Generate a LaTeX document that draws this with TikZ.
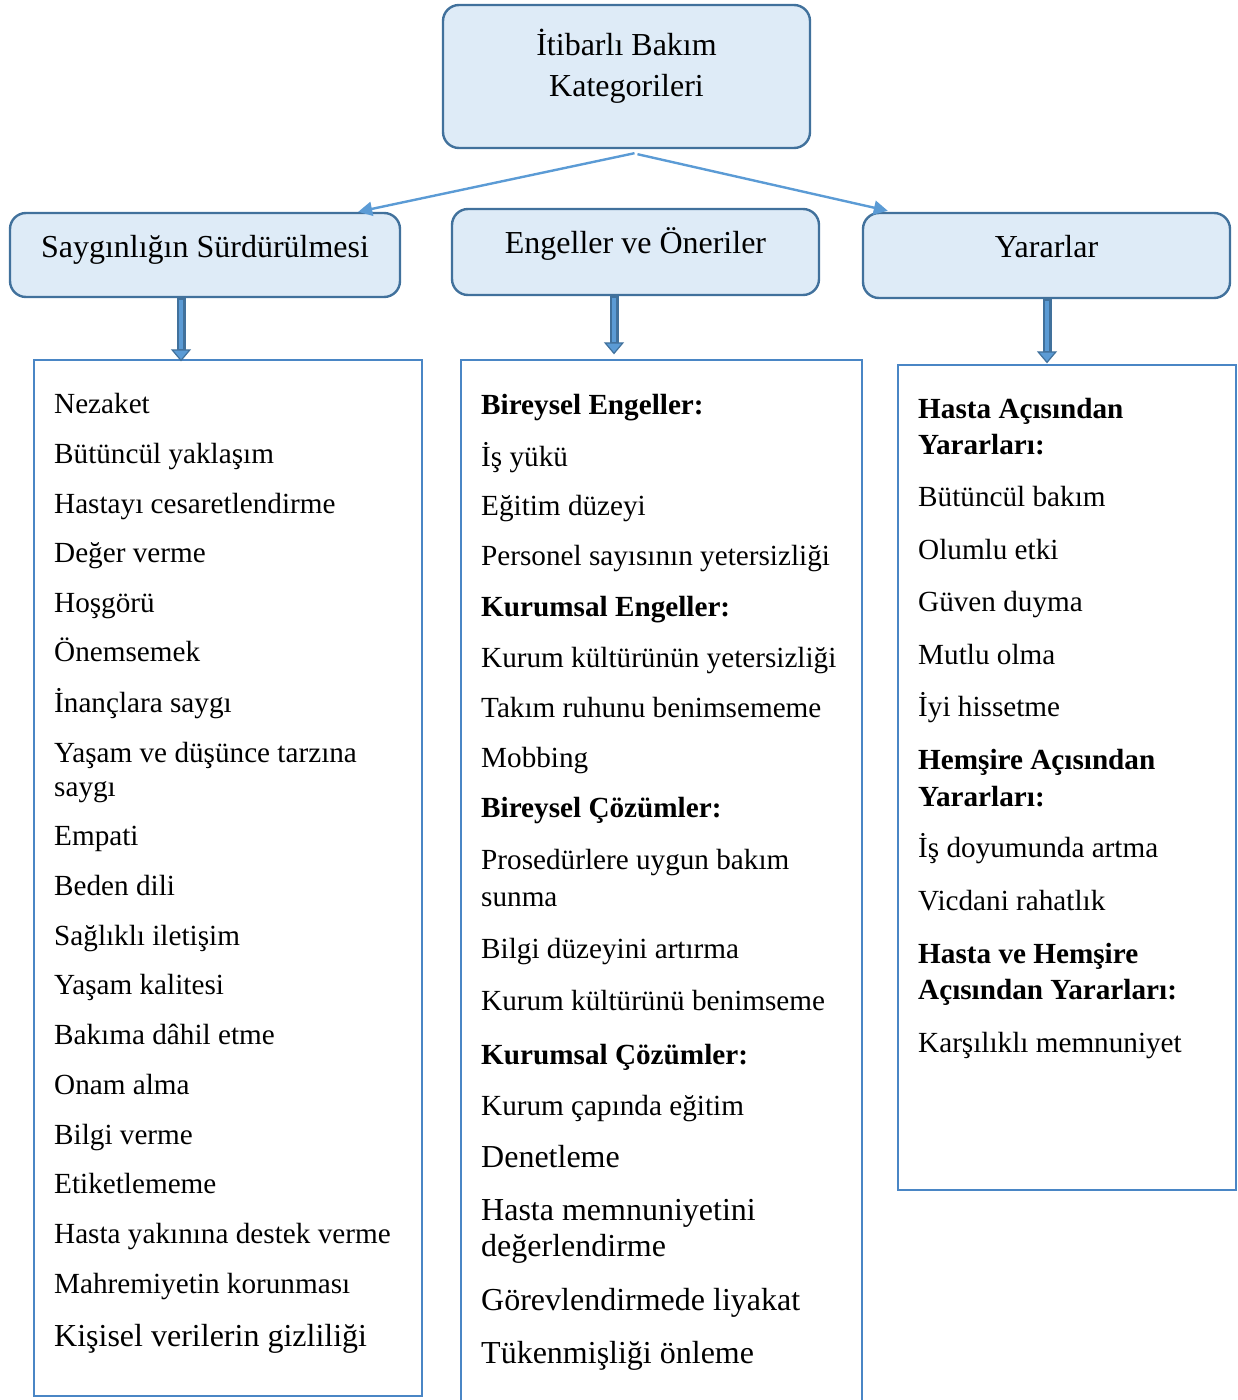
\documentclass[tikz,border=0pt]{standalone}
\usepackage{fontspec}
\setmainfont{Liberation Serif}
\usetikzlibrary{arrows.meta}
\definecolor{boxfill}{HTML}{DEEBF7}
\definecolor{boxedge}{HTML}{41719C}
\definecolor{linkblue}{HTML}{5B9BD5}
\definecolor{listedge}{HTML}{4A86C5}
\begin{document}
\begin{tikzpicture}[x=1pt,y=-1pt,
  catbox/.style={draw=boxedge, fill=boxfill, line width=2.4pt, rounded corners=16pt, inner sep=0pt},
  listbox/.style={draw=listedge, line width=1.3pt, inner sep=0pt},
  title/.style={font=\fontsize{32}{38}\selectfont, anchor=base, inner sep=0pt},
  item/.style={font=\fontsize{29.2}{35}\selectfont, anchor=base west, inner sep=0pt},
  bigitem/.style={font=\fontsize{32}{38}\selectfont, anchor=base west, inner sep=0pt},
  link/.style={draw=linkblue, line width=2.4pt, -{Triangle[width=14pt,length=14pt]}},
  blockout/.style={draw=boxedge, line width=9pt,
    -{Triangle[width=20pt,length=12pt,line width=1.2pt,fill=linkblue]}},
  blockin/.style={draw=linkblue, line width=4pt}]
\useasboundingbox (0,0) rectangle (1237,1400);
\clip (0,0) rectangle (1237,1400);

% category boxes
\node[catbox, minimum width=367pt, minimum height=143pt] (top) at (626.5,76.5) {};
\node[title] (topa) at (626.5,55) {İtibarlı Bakım};
\node[title] (topb) at (626.5,96) {Kategorileri};

\node[catbox, minimum width=390pt, minimum height=84pt] (sd) at (205,255) {};
\node[title] (sdt) at (205,257) {Saygınlığın Sürdürülmesi};
\node[catbox, minimum width=367pt, minimum height=86pt] (eo) at (635.5,252) {};
\node[title] (eot) at (635.5,253) {Engeller ve Öneriler};
\node[catbox, minimum width=367pt, minimum height=85pt] (yr) at (1046.5,255.5) {};
\node[title] (yrt) at (1046.5,257) {Yararlar};

% list boxes
\node[listbox, minimum width=388pt, minimum height=1036pt] (ls) at (228,878) {};
\node[listbox, minimum width=401pt, minimum height=1060pt] (le) at (661.5,890) {};
\node[listbox, minimum width=338pt, minimum height=825pt] (lr) at (1067,777.5) {};

% connectors from the top box
\draw[link] ([xshift=8pt,yshift=-4pt]top.south) -- ([xshift=-43pt]sd.north east);
\draw[link] ([xshift=11pt,yshift=-5pt]top.south) -- ([xshift=26pt,yshift=1pt]yr.north west);

% block arrows down to the lists (outline with head, then light core)
\draw[blockout] ([xshift=-24pt]sd.south) -- ([xshift=-47pt,yshift=-2pt]ls.north);
\draw[blockin] ([xshift=-24pt,yshift=-2pt]sd.south) -- ([xshift=-47pt,yshift=10pt]ls.north);
\draw[blockout] ([xshift=-21.5pt]eo.south) -- ([xshift=-47.5pt,yshift=5pt]le.north);
\draw[blockin] ([xshift=-21.5pt,yshift=-2pt]eo.south) -- ([xshift=-47.5pt,yshift=17pt]le.north);
\draw[blockout] ([xshift=0.5pt]yr.south) -- ([xshift=-20pt,yshift=1pt]lr.north);
\draw[blockin] ([xshift=0.5pt,yshift=-2pt]yr.south) -- ([xshift=-20pt,yshift=13pt]lr.north);

% left list
\foreach \y/\t [count=\i] in {
  404/Nezaket, 454/Bütüncül yaklaşım, 504/Hastayı cesaretlendirme,
  553/Değer verme, 603/Hoşgörü, 652/Önemsemek, 703/İnançlara saygı,
  753/Yaşam ve düşünce tarzına, 787/saygı, 836/Empati, 886/Beden dili,
  936/Sağlıklı iletişim, 985/Yaşam kalitesi, 1035/Bakıma dâhil etme,
  1085/Onam alma, 1135/Bilgi verme, 1184/Etiketlememe,
  1234/Hasta yakınına destek verme, 1284/Mahremiyetin korunması}
  \node[item] (s\i) at (54,\y+9) {\t};
\node[bigitem] (s20) at (54,1346) {Kişisel verilerin gizliliği};

% middle list
\foreach \y/\t [count=\i] in {
  405/\textbf{Bireysel Engeller:}, 457/İş yükü, 506/Eğitim düzeyi,
  556/Personel sayısının yetersizliği, 607/\textbf{Kurumsal Engeller:},
  658/Kurum kültürünün yetersizliği, 708/Takım ruhunu benimsememe,
  758/Mobbing, 808/\textbf{Bireysel Çözümler:},
  860/Prosedürlere uygun bakım, 897/sunma, 949/Bilgi düzeyini artırma,
  1001/Kurum kültürünü benimseme, 1055/\textbf{Kurumsal Çözümler:},
  1106/Kurum çapında eğitim}
  \node[item] (e\i) at (481,\y+9) {\t};
\foreach \y/\t [count=\i from 16] in {
  1157/Denetleme, 1210/Hasta memnuniyetini, 1246/değerlendirme,
  1300/Görevlendirmede liyakat, 1353/Tükenmişliği önleme}
  \node[bigitem] (e\i) at (481,\y+10) {\t};

% right list
\foreach \y/\t [count=\i] in {
  409/\textbf{Hasta Açısından}, 445/\textbf{Yararları:}, 497/Bütüncül bakım,
  550/Olumlu etki, 602/Güven duyma, 655/Mutlu olma, 707/İyi hissetme,
  760/\textbf{Hemşire Açısından}, 797/\textbf{Yararları:},
  848/İş doyumunda artma, 901/Vicdani rahatlık,
  954/\textbf{Hasta ve Hemşire}, 990/\textbf{Açısından Yararları:},
  1043/Karşılıklı memnuniyet}
  \node[item] (r\i) at (918,\y+9) {\t};
\end{tikzpicture}
\end{document}
